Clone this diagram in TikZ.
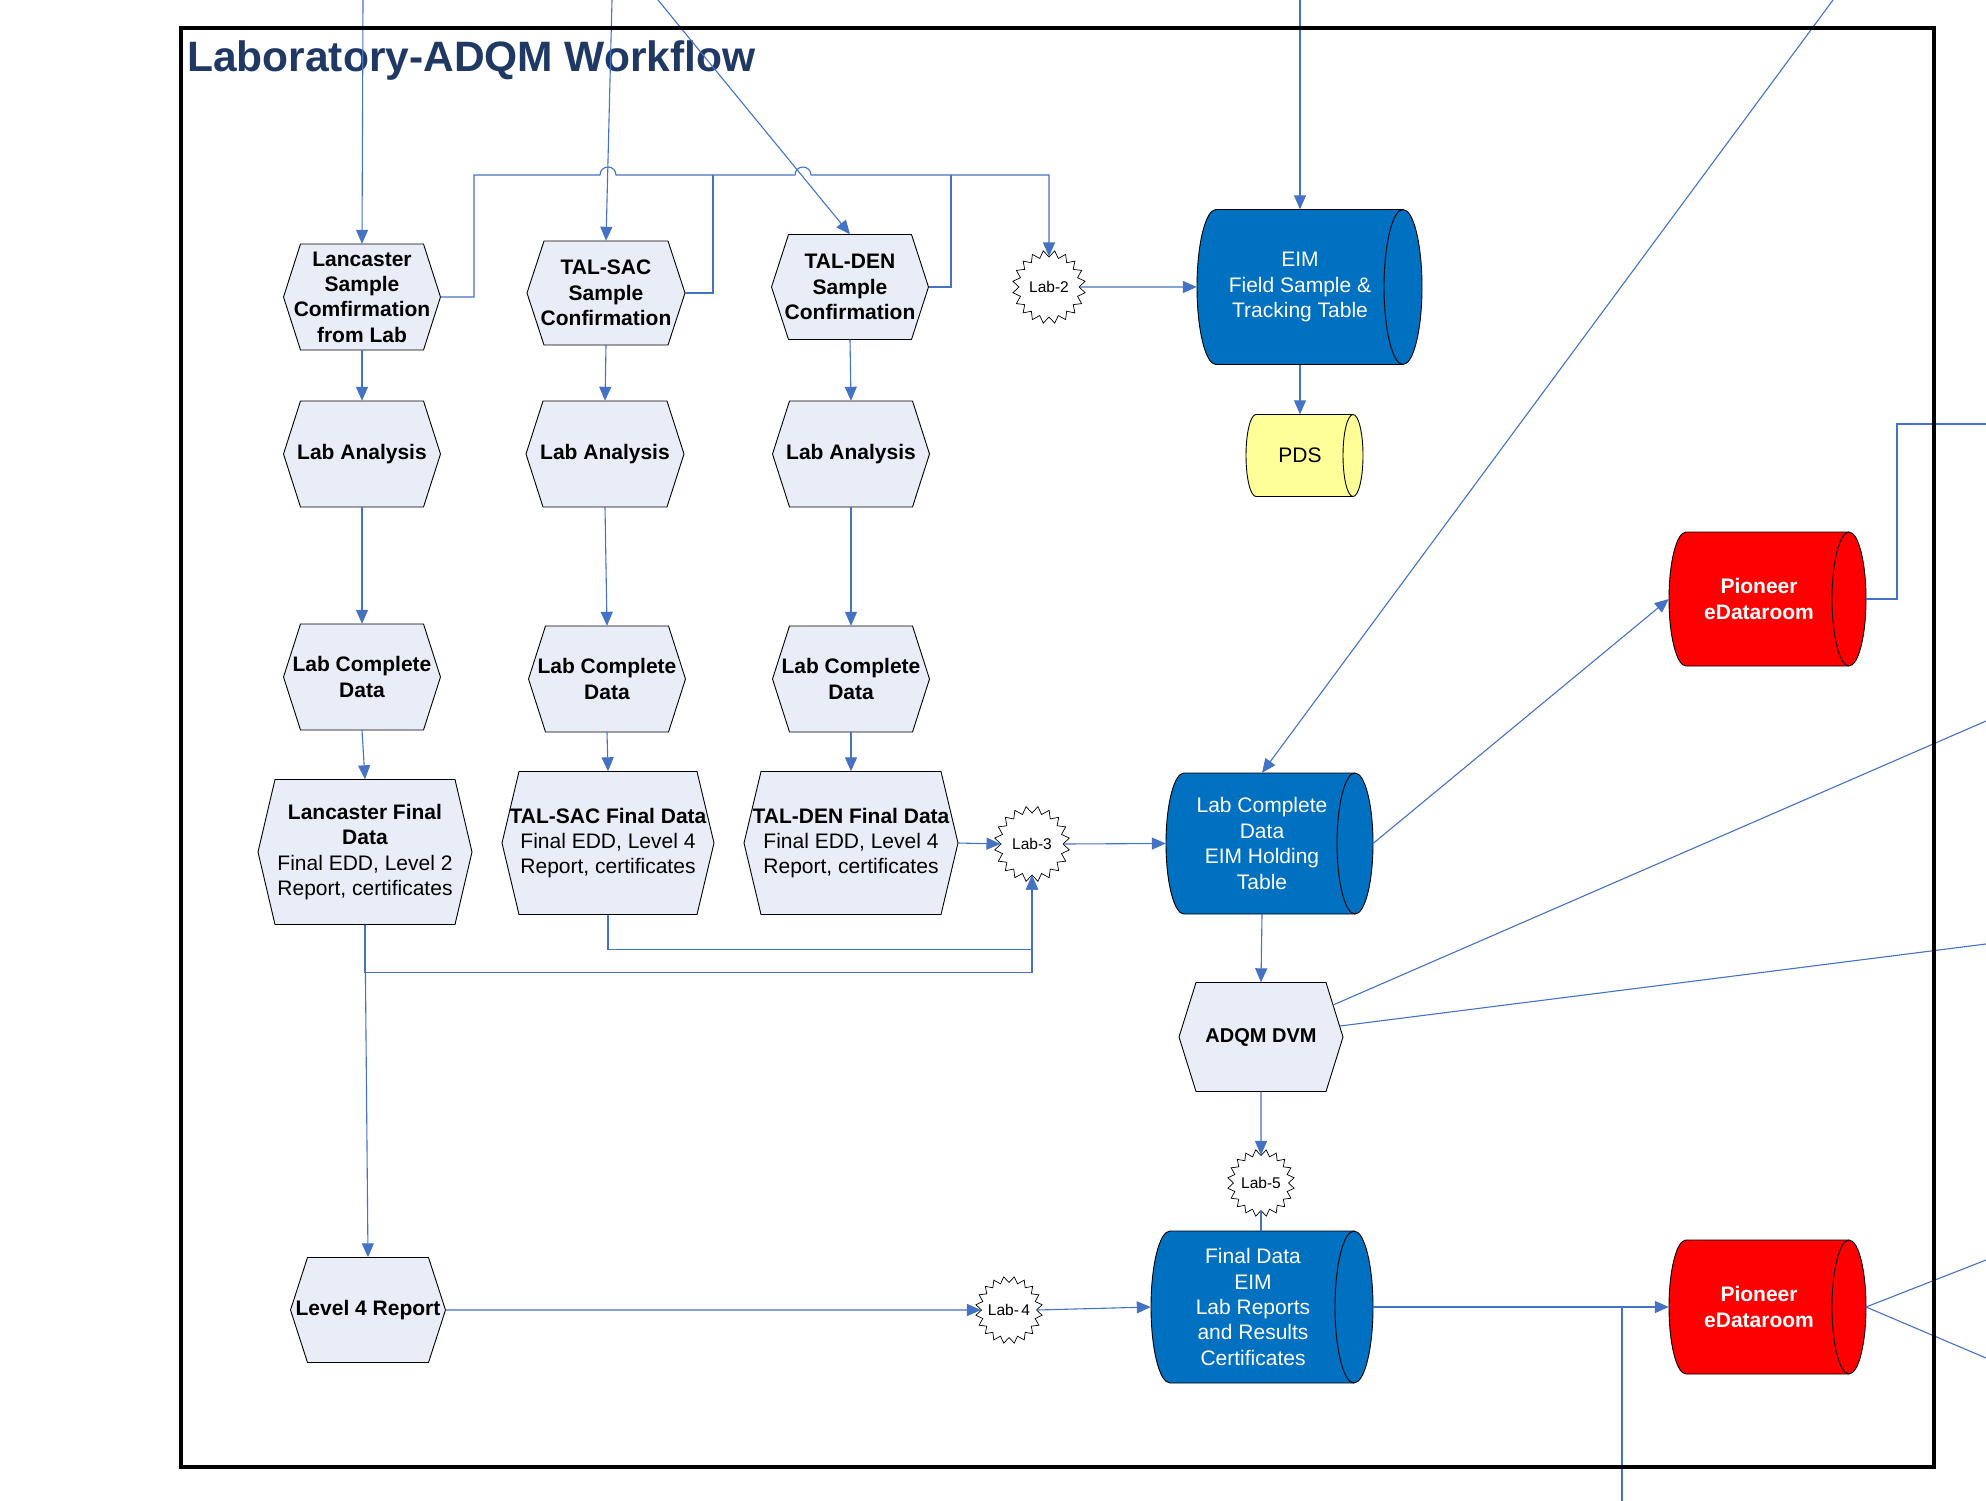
\documentclass[tikz,border=0pt]{standalone}
\usepackage{fontspec}
\setmainfont{Liberation Sans}
\usetikzlibrary{arrows.meta,shapes.geometric}

\definecolor{flowblue}{HTML}{4472C4}
\definecolor{hexfill}{HTML}{E8EDF7}
\definecolor{eimblue}{HTML}{0070C0}
\definecolor{pdsyellow}{HTML}{FFFF99}
\definecolor{pionred}{HTML}{FF0000}
\definecolor{titlenavy}{HTML}{1F3864}

% hexagon process box: name, centre x, centre y, width, height, text
\def\hexinset{17}
\newcommand{\hexat}[6]{%
  \path[hexface] ({#2-#4/2},{#3}) -- ({#2-#4/2+\hexinset},{#3-#5/2})
    -- ({#2+#4/2-\hexinset},{#3-#5/2}) -- ({#2+#4/2},{#3})
    -- ({#2+#4/2-\hexinset},{#3+#5/2}) -- ({#2-#4/2+\hexinset},{#3+#5/2}) -- cycle;
  \node[hexlabel, minimum width={#4*1pt}, minimum height={#5*1pt}] (#1) at (#2,#3) {#6};
}

% lying cylinder (data store): name, text centre x, centre y, left end x, right end x,
% end radius x, half height, style, text
\newcommand{\cylat}[9]{%
  \path[cylface,#8] ({#4+#6},{#3-#7})
    arc[start angle=90, end angle=270, x radius={#6*1pt}, y radius={#7*1pt}]
    -- ({#5-#6},{#3+#7})
    arc[start angle=-90, end angle=90, x radius={#6*1pt}, y radius={#7*1pt}] -- cycle;
  \draw[cylline] ({#5-#6},{#3-#7})
    arc[start angle=90, end angle=270, x radius={#6*1pt}, y radius={#7*1pt}];
  \node[cyllabel,#8,fill=none,draw=none, minimum width={2*(#2-#4)*1pt},
        minimum height={2*#7*1pt}] (#1) at (#2,#3) {#9};
  \coordinate (#1-e) at (#5,#3);
}

\begin{document}
\begin{tikzpicture}[x=1pt,y=-1pt,
  conn/.style={draw=flowblue, line width=1.1pt},
  arr/.style={conn, -{Triangle[length=14pt,width=12pt]}},
  hexface/.style={fill=hexfill, draw=black, line width=0.9pt},
  hexlabel/.style={draw=none, fill=none, inner sep=0pt, align=center,
    font=\fontsize{21}{25.3}\selectfont\bfseries},
  cylface/.style={draw=black, line width=0.9pt},
  cylline/.style={draw=black, line width=0.9pt},
  cyllabel/.style={inner sep=0pt, align=center},
  eimcyl/.style={fill=eimblue, text=white, font=\fontsize{21}{25.4}\selectfont},
  pdscyl/.style={fill=pdsyellow, text=black, font=\fontsize{21}{25}\selectfont},
  pioncyl/.style={fill=pionred, text=white, font=\fontsize{21}{25.5}\selectfont\bfseries},
  labstar/.style={star, star points=20, star point ratio=0.82, draw=black, fill=white,
    line width=0.7pt, inner sep=0pt, minimum size=60pt,
    font=\fontsize{15.5}{18}\selectfont},
]
\useasboundingbox (0,0) rectangle (1986,1501);

% title
\node[anchor=base west, inner sep=0pt, text=titlenavy,
      font=\fontsize{42.5}{48}\selectfont\bfseries] (title) at (187,72)
      {Laboratory-ADQM Workflow};

% sample confirmation, analysis and data boxes
\hexat{lconf}{362}{297}{157}{106}{Lancaster\\Sample\\Comfirmation\\from Lab}
\hexat{tsconf}{606}{293}{158}{104}{TAL-SAC\\Sample\\Confirmation}
\hexat{tdconf}{850}{287}{157}{105}{TAL-DEN\\Sample\\Confirmation}
\hexat{la1}{362}{454}{157}{106}{Lab Analysis}
\hexat{la2}{605}{454}{158}{106}{Lab Analysis}
\hexat{la3}{851}{454}{157}{106}{Lab Analysis}
\hexat{lcd1}{362}{677}{157}{106}{Lab Complete\\Data}
\hexat{lcd2}{607}{679}{157}{106}{Lab Complete\\Data}
\hexat{lcd3}{851}{679}{157}{106}{Lab Complete\\Data}
\hexat{lfin}{365}{852}{214}{145}{Lancaster Final\\Data\\\textmd{Final EDD, Level 2}\\\textmd{Report, certificates}}
\hexat{tsfin}{608}{843}{212}{143}{TAL-SAC Final Data\\\textmd{Final EDD, Level 4}\\\textmd{Report, certificates}}
\hexat{tdfin}{851}{843}{214}{143}{TAL-DEN Final Data\\\textmd{Final EDD, Level 4}\\\textmd{Report, certificates}}
\hexat{lvl4}{368}{1310}{155}{105}{Level 4 Report}
\hexat{adqm}{1261}{1037}{164}{109}{\fontsize{20}{24}\selectfont ADQM DVM}

% data stores
\cylat{eim}{1300}{287}{1197}{1422}{19}{77.5}{eimcyl}{EIM\\Field Sample \&\\Tracking Table}
\cylat{pds}{1300}{455.5}{1246}{1363}{10}{41}{pdscyl}{PDS}
\cylat{hold}{1262}{843.5}{1166}{1373}{18}{70.5}{eimcyl}{Lab Complete\\Data\\EIM Holding\\Table}
\cylat{fin}{1253}{1307}{1151}{1373}{19}{76}{eimcyl}{Final Data\\EIM\\Lab Reports\\and Results\\Certificates}
\cylat{pion1}{1759}{599}{1669}{1866}{17}{67}{pioncyl}{Pioneer\\eDataroom}
\cylat{pion2}{1759}{1307}{1669}{1866}{17}{67}{pioncyl}{Pioneer\\eDataroom}

% off-page references
\node[labstar] (lab2) at (1049,287) {Lab-2};
\node[labstar, minimum size=62pt] (lab3) at (1032,844) {Lab-3};
\node[labstar, minimum size=55pt] (lab4) at (1009,1310) {Lab-\,4};
\node[labstar, minimum size=55pt] (lab5) at (1261,1183) {Lab-5};

% free ends of connectors leaving the sheet
\coordinate (inL) at (363,0);
\coordinate (inS) at (612,0);
\coordinate (inD) at (658,0);
\coordinate (inE) at (1300,0);
\coordinate (inH) at (1833,0);
\coordinate (outP1) at (1986,424);
\coordinate (adqmA) at (1333,1005);
\coordinate (adqmB) at (1340,1026);
\coordinate (outA1) at (1986,721);
\coordinate (outA2) at (1986,944);
\coordinate (outB) at (1622,1501);
\coordinate (outC1) at (1986,1260);
\coordinate (outC2) at (1986,1358);

% incoming connectors
\draw[arr] (inL) -- (lconf.north);
\draw[arr] (inS) -- (tsconf.north);
\draw[arr] (inD) -- (tdconf.north);
\draw[arr] (inE) -- (eim.north);
\draw[arr] (inH) -- (hold.north);

% confirmation bus to Lab-2, hopping over the incoming lines
\draw[arr] (lconf.east) -| (474,175) -- (600,175)
  arc[start angle=180, end angle=0, radius=8pt] -- (795,175)
  arc[start angle=180, end angle=0, radius=8pt] -| (lab2.north);
\draw[conn] (tsconf.east) -| (713,175);
\draw[conn] (tdconf.east) -| (951,175);
\draw[arr] (lab2.east) -- (eim.west);
\draw[arr] (eim.south) -- (pds.north);

% laboratory columns
\draw[arr] (lconf.south) -- (la1.north);
\draw[arr] (la1.south) -- (lcd1.north);
\draw[arr] (lcd1.south) -- (lfin.north);
\draw[arr] (tsconf.south) -- (la2.north);
\draw[arr] (la2.south) -- (lcd2.north);
\draw[arr] (lcd2.south) -- (tsfin.north);
\draw[arr] (tdconf.south) -- (la3.north);
\draw[arr] (la3.south) -- (lcd3.north);
\draw[arr] (lcd3.south) -- (tdfin.north);

% final data to Lab-3 and the holding table
\draw[arr] (tdfin.east) -- (lab3.west);
\draw[arr] (tsfin.south) -- ++(0,35) -| (lab3.south);
\draw[arr] (lfin.south) -- ++(0,48) -| (lab3.south);
\draw[arr] (lfin.south) -- (lvl4.north);
\draw[arr] (lab3.east) -- (hold.west);

% holding table, ADQM and Pioneer
\draw[arr] (hold-e) -- (pion1.west);
\draw[conn] (pion1-e) -| (1897,424) -- (outP1);
\draw[arr] (hold.south) -- (adqm.north);
\draw[conn] (adqmA) -- (outA1);
\draw[conn] (adqmB) -- (outA2);
\draw[arr] (adqm.south) -- (lab5.north);
\draw[conn] (lab5.south) -- (lab5.south |- fin.north);

% final reports
\draw[arr] (lvl4.east) -- (lab4.west);
\draw[arr] (lab4.east) -- (fin.west);
\draw[arr] (fin-e) -- (pion2.west);
\draw[conn] (fin-e -| outB) -- (outB);
\draw[conn] (pion2-e) -- (outC1);
\draw[conn] (pion2-e) -- (outC2);

% sheet frame
\draw[line width=4.5pt, line join=miter] (181,28) rectangle (1934,1467);
\end{tikzpicture}
\end{document}
